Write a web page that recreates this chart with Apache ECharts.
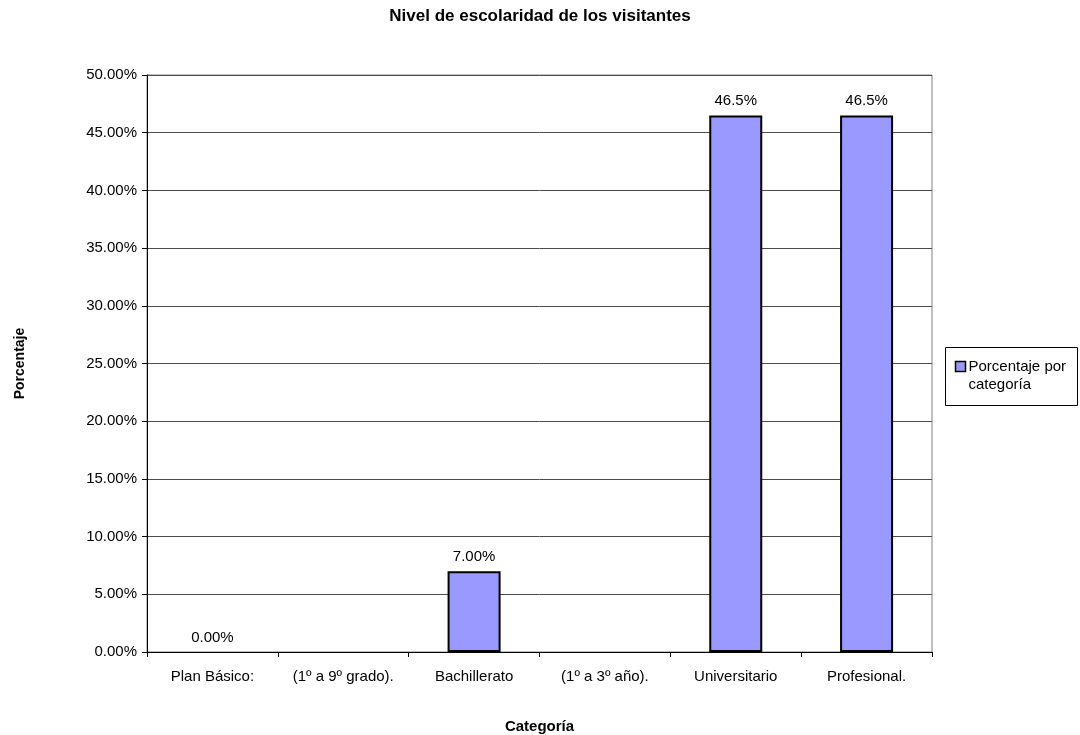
<!DOCTYPE html>
<html>
<head>
<meta charset="utf-8">
<script src="https://cdn.jsdelivr.net/npm/echarts@6/dist/echarts.min.js"></script>
<style>
  html, body { margin: 0; padding: 0; background: #fff; }
  #chart { width: 1080px; height: 735px; }
</style>
</head>
<body>
<div id="chart"></div>
<script>
// Education level of visitors (percent per category)
const categories = ['Plan Básico:', '(1º a 9º grado).', 'Bachillerato', '(1º a 3º año).', 'Universitario', 'Profesional.'];
const percentages = [0, null, 7.00, null, 46.5, 46.5];
const labelDecimals = [2, null, 2, null, 1, 1];
const yTicks = [0, 5, 10, 15, 20, 25, 30, 35, 40, 45, 50];
const seriesName = 'Porcentaje por categoría';

const FONT = '"Liberation Sans", Arial, sans-serif';
const chart = echarts.init(document.getElementById('chart'), null, { renderer: 'canvas' });

chart.setOption({
  animation: false,
  backgroundColor: '#ffffff',
  textStyle: { fontFamily: FONT },
  title: {
    text: 'Nivel de escolaridad de los visitantes',
    left: 'center',
    top: 3,
    textStyle: { fontFamily: FONT, fontSize: 17, fontWeight: 'bold', color: '#000' }
  },
  grid: {
    left: 147, right: 148, top: 75, bottom: 83,
    containLabel: false,
    outerBoundsMode: 'none',
    show: true, borderColor: '#808080', borderWidth: 1, backgroundColor: '#ffffff'
  },
  xAxis: {
    type: 'category',
    data: categories,
    name: 'Categoría',
    nameLocation: 'middle',
    nameGap: 67,
    nameTextStyle: { fontFamily: FONT, fontSize: 15, fontWeight: 'bold', color: '#000' },
    axisLine: { lineStyle: { color: '#000', width: 1 } },
    axisTick: { show: true, alignWithLabel: false, length: 5, lineStyle: { color: '#000' } },
    axisLabel: { fontFamily: FONT, fontSize: 15, color: '#000', margin: 17, interval: 0 },
    splitLine: { show: false }
  },
  yAxis: {
    type: 'value',
    min: yTicks[0],
    max: yTicks[yTicks.length - 1],
    interval: yTicks[1] - yTicks[0],
    name: 'Porcentaje',
    nameLocation: 'middle',
    nameGap: 120,
    nameRotate: 90,
    nameTextStyle: { fontFamily: FONT, fontSize: 14, fontWeight: 'bold', color: '#000' },
    axisLine: { show: true, lineStyle: { color: '#000', width: 1 } },
    axisTick: { show: true, length: 5, lineStyle: { color: '#000' } },
    axisLabel: {
      fontFamily: FONT, fontSize: 15, color: '#000', margin: 10,
      formatter: v => v.toFixed(2) + '%'
    },
    splitLine: { show: true, lineStyle: { color: '#4d4d4d', width: 1 } }
  },
  series: [{
    name: seriesName,
    type: 'bar',
    barWidth: 53,
    data: percentages.map((v, i) => ({
      value: v,
      decimals: labelDecimals[i],
      // a zero-height bar leaves no outline on the baseline
      itemStyle: v === 0 ? { borderWidth: 0 } : undefined
    })),
    itemStyle: { color: '#9999ff', borderColor: '#000', borderWidth: 2 },
    label: {
      show: true,
      position: 'top',
      distance: 7,
      fontFamily: FONT,
      fontSize: 15,
      color: '#000',
      formatter: p => (p.value == null ? '' : p.value.toFixed(p.data.decimals) + '%')
    }
  }],
  graphic: [{
    type: 'group',
    left: 945,
    top: 347,
    children: [
      { type: 'rect', shape: { x: 0, y: 0, width: 132, height: 58 },
        style: { fill: '#fff', stroke: '#000', lineWidth: 1 } },
      { type: 'rect', shape: { x: 10, y: 14, width: 10, height: 10 },
        style: { fill: '#9999ff', stroke: '#000', lineWidth: 1.5 } },
      { type: 'text', x: 23, y: 10,
        style: { text: 'Porcentaje por\ncategoría', font: '15px ' + FONT, fill: '#000', lineHeight: 18 } }
    ]
  }]
});
</script>
</body>
</html>
